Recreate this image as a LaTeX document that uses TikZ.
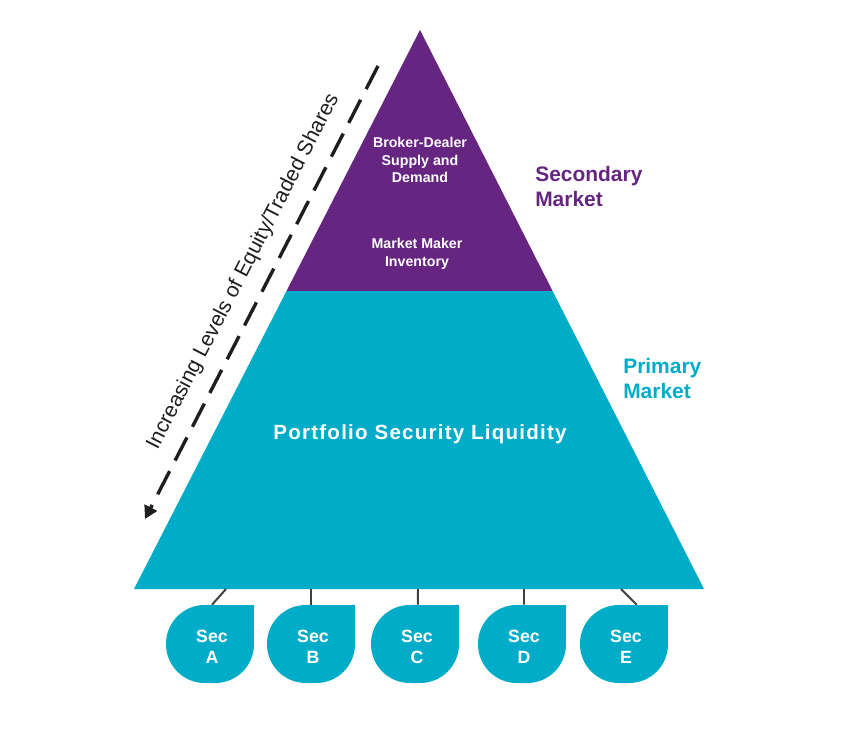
\documentclass[tikz,border=0pt]{standalone}
\usepackage{fontspec}
\setmainfont{Liberation Sans}
\usetikzlibrary{arrows.meta}
\definecolor{aqua}{RGB}{0,172,200}
\definecolor{plum}{RGB}{101,37,128}
\definecolor{ink}{RGB}{30,30,30}
\tikzset{
  >={Triangle[length=3.2mm,width=3.4mm]},
  tierlabel/.style={text=white,font=\fontsize{10.1}{12.4}\selectfont\bfseries,
    align=center,inner sep=0pt},
  market/.style={text=#1,font=\fontsize{14.9}{17.8}\selectfont\bfseries,
    align=left,anchor=west,inner sep=0pt},
  market/.default=plum,
  secbox/.style={fill=aqua,rounded corners=0.97cm,minimum width=2.2cm,
    minimum height=1.95cm,inner sep=0pt},
  sectext/.style={text=white,font=\fontsize{12.6}{15}\selectfont\bfseries,
    align=center,inner sep=0pt},
  stem/.style={draw=ink!85,line width=1.4pt},
  trend/.style={->,draw=ink,line width=2.4pt,dash pattern=on 18.5pt off 8.5pt},
}

\begin{document}
\begin{tikzpicture}[x=0.025cm,y=-0.025cm]
  \useasboundingbox (0,0) rectangle (857,736);
  % pyramid
  \coordinate (apex) at (420,30);
  \coordinate (midL) at (286.5,291);
  \coordinate (midR) at (552.6,291);
  \coordinate (baseL) at (134,589);
  \coordinate (baseR) at (704,589);
  \fill[plum] (apex) -- (midR) -- (midL) -- cycle;
  \fill[aqua] (midL) -- (midR) -- (baseR) -- (baseL) -- cycle;

  \node[tierlabel] (broker) at (420,160) {Broker-Dealer\\Supply and\\Demand};
  \node[tierlabel] (maker) at (417,254) {Market Maker\\Inventory};
  \node[text=white,inner sep=0pt,font=\fontsize{14.6}{17}\selectfont\bfseries]
    (liquidity) at (420,434.5) {\addfontfeature{LetterSpace=6}Portfolio Security Liquidity};

  \node[market=plum] (secondary) at (535,186.5) {Secondary\\Market};
  \node[market=aqua] (primary) at (623,378.5) {Primary\\Market};

  % securities
  \foreach \l/\x in {A/210,B/311,C/415,D/522,E/624}{
    \fill[aqua] (\x,605) rectangle (\x+44,644);
    \node[secbox] (sec\l) at (\x,644) {};
    \node[sectext] (sectext\l) at (\x+2,647) {Sec\\\l};
  }
  \foreach \l/\x/\s in {A/226/0.05,B/311/0,C/418/0.07,D/524/0.05,E/621/0.32}{
    \coordinate (stem\l) at (\x,589);
    \draw[stem] (stem\l) -- ([xshift=\s cm]sec\l.north);
  }

  % trend arrow
  \coordinate (trendtop) at (378,66);
  \coordinate (trendtip) at (145,519);
  \draw[trend] (trendtop) -- node[sloped,above=0.35cm,pos=0.48,inner sep=0pt,
    font=\fontsize{15}{18}\selectfont,text=ink] (trendlabel)
    {Increasing Levels of Equity/Traded Shares} (trendtip);
\end{tikzpicture}
\end{document}
